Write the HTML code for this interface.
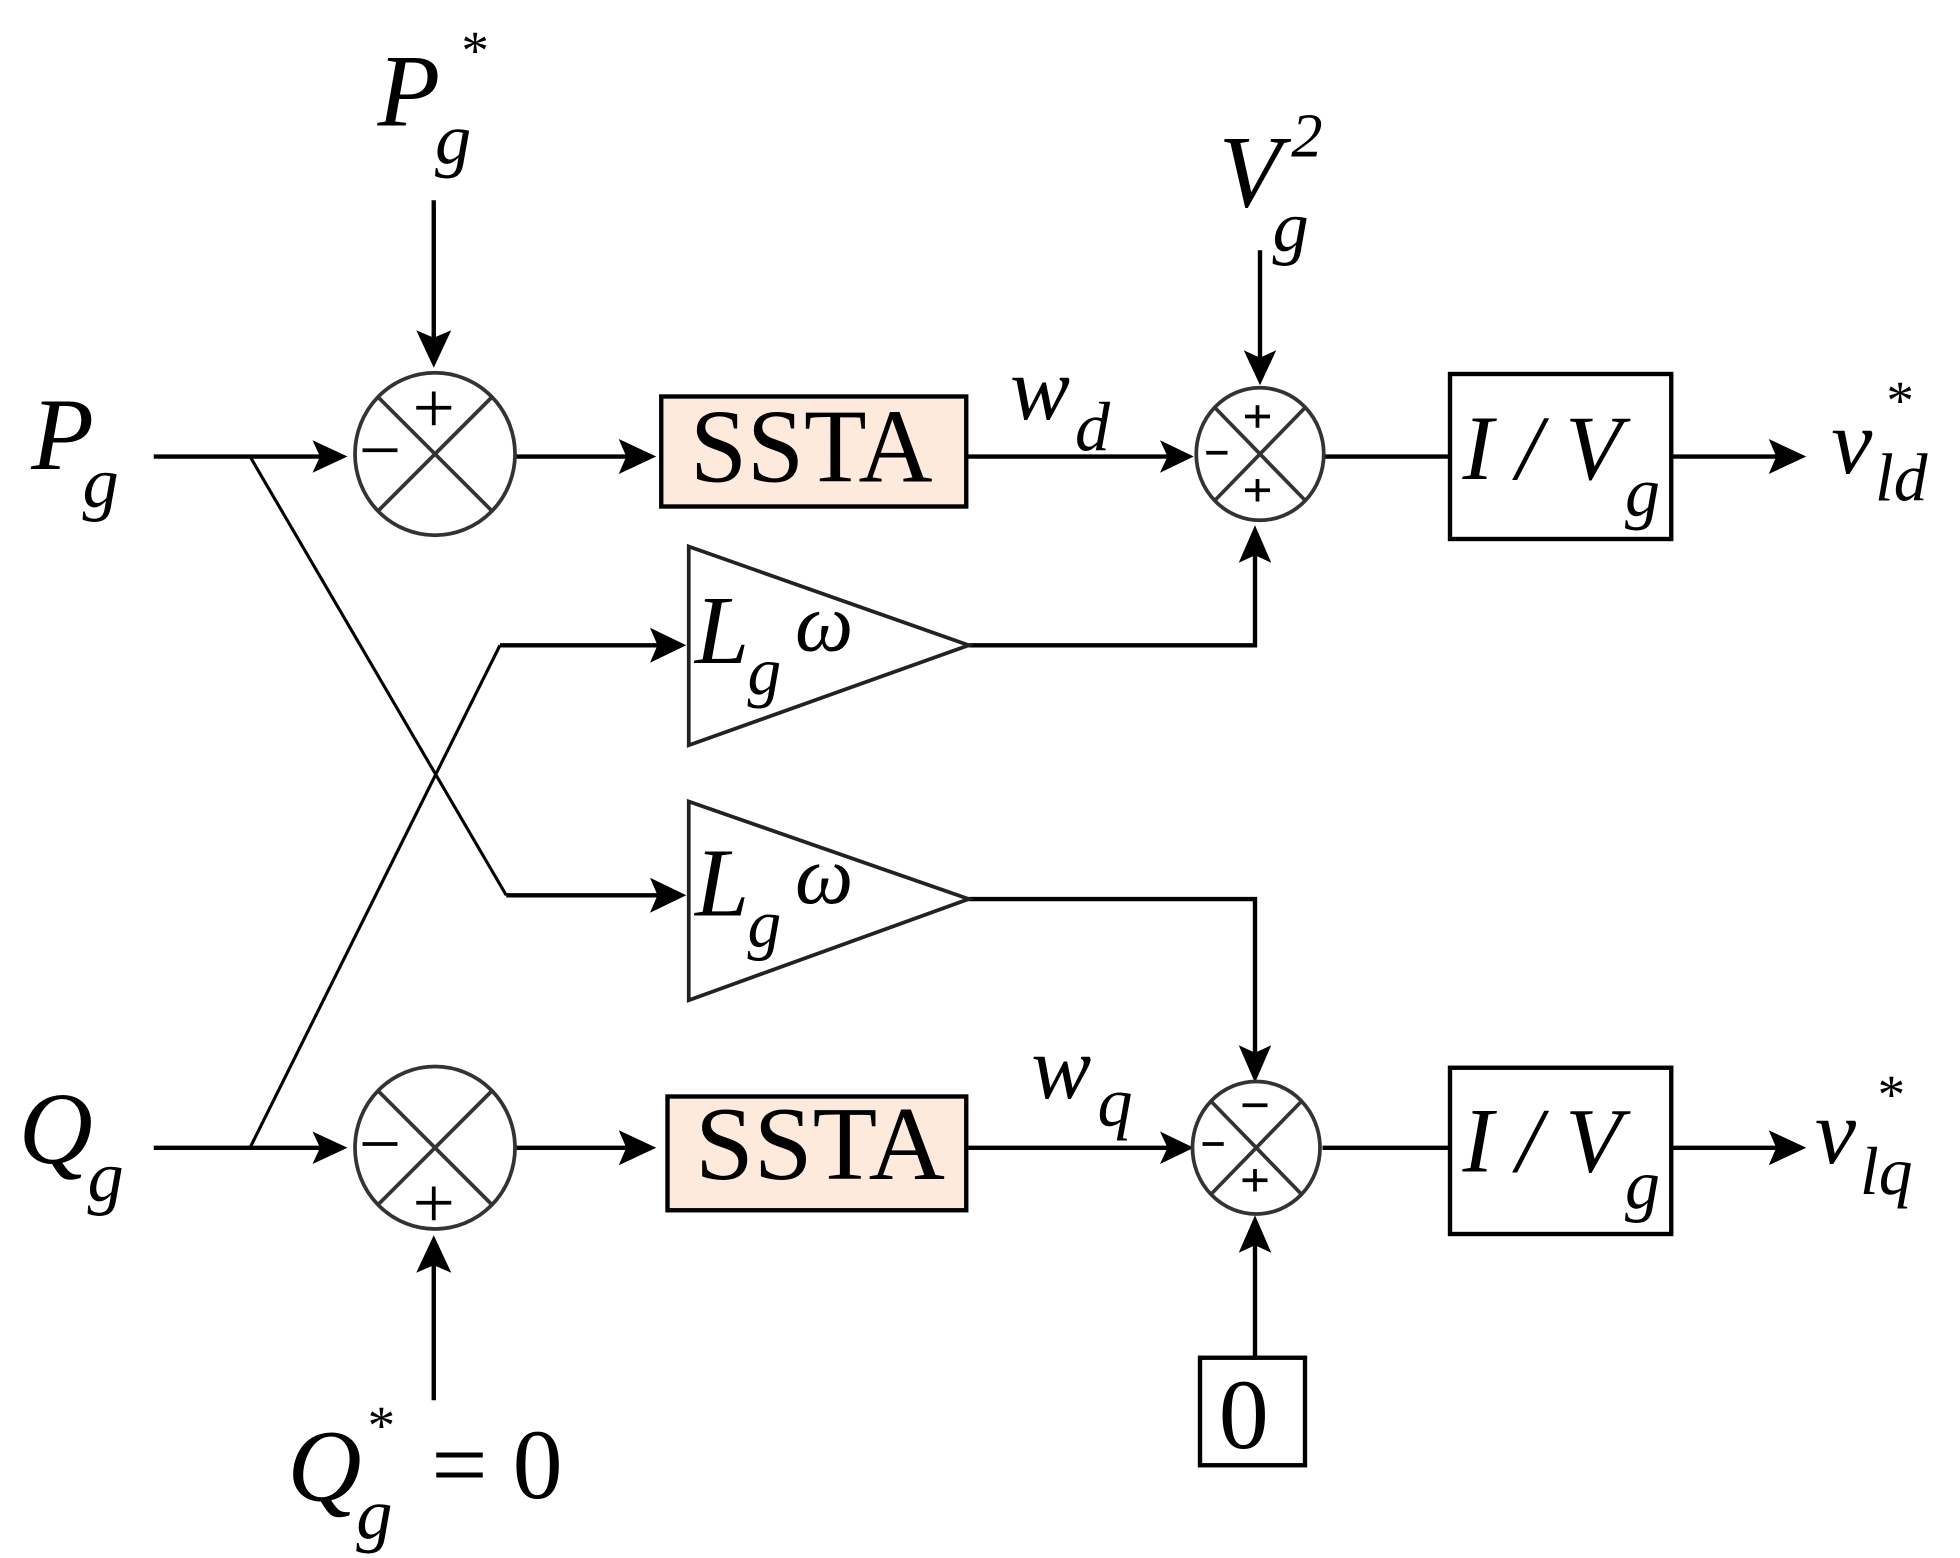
<!DOCTYPE html>
<html><head><meta charset="utf-8"><style>
html,body{margin:0;padding:0;background:#fff;}
svg{display:block;}
text{font-family:"Liberation Serif",serif;fill:#000;}
.i{font-style:italic;}
</style></head><body>
<svg width="1960" height="1558" viewBox="0 0 1568 1246" xmlns="http://www.w3.org/2000/svg">
<defs>
<marker id="a" markerWidth="10" markerHeight="10" refX="9" refY="5" orient="auto" markerUnits="userSpaceOnUse" viewBox="0 0 10 10">
</marker>
</defs>
<g stroke="#000" stroke-width="3.5" fill="none">
<!-- top row -->
<line x1="123" y1="365" x2="262" y2="365"/>
<line x1="413" y1="365" x2="510" y2="365"/>
<line x1="773" y1="365" x2="940" y2="365"/>
<line x1="1060" y1="365" x2="1160" y2="365"/>
<line x1="1337" y1="365" x2="1428" y2="365"/>
<line x1="347" y1="160" x2="347" y2="278"/>
<line x1="1008" y1="200" x2="1008" y2="292"/>
<!-- bottom row -->
<line x1="123" y1="918" x2="262" y2="918"/>
<line x1="413" y1="918" x2="510" y2="918"/>
<line x1="773" y1="918" x2="940" y2="918"/>
<line x1="1058" y1="918" x2="1160" y2="918"/>
<line x1="1337" y1="918" x2="1428" y2="918"/>
<line x1="347" y1="1120" x2="347" y2="1003"/>
<line x1="1004" y1="1085" x2="1004" y2="988"/>
<!-- gains -->
<polyline points="400,516 534,516"/>
<polyline points="775,516 1004,516 1004,438"/>
<polyline points="405,716 534,716"/>
<polyline points="775,719 1004,719 1004,850"/>
</g>
<g stroke="#000" stroke-width="2.5" fill="none">
<polyline points="200,365 405,716"/>
<polyline points="200,918 400,516"/>
</g>
<!-- arrowheads -->
<g fill="#000">
<polygon points="278,365 250,352 256,365 250,378"/>
<polygon points="525,365 495,351 501,365 495,379"/>
<polygon points="955,365 928,352 934,365 928,378"/>
<polygon points="1445,365 1415,351 1421,365 1415,379"/>
<polygon points="347,294 333,264 347,270 361,264"/>
<polygon points="1008,308 995,280 1008,286 1021,280"/>
<polygon points="278,918 250,905 256,918 250,931"/>
<polygon points="525,918 495,904 501,918 495,932"/>
<polygon points="955,918 928,905 934,918 928,931"/>
<polygon points="1445,918 1415,904 1421,918 1415,932"/>
<polygon points="347,988 333,1018 347,1012 361,1018"/>
<polygon points="1004,972 991,1002 1004,996 1017,1002"/>
<polygon points="549,516 520,502 526,516 520,530"/>
<polygon points="549,716 520,702 526,716 520,730"/>
<polygon points="1004,420 991,450 1004,444 1017,450"/>
<polygon points="1004,866 991,836 1004,842 1017,836"/>
</g>
<!-- summing junctions -->
<g stroke="#333" stroke-width="3" fill="none">
<ellipse cx="348" cy="363" rx="64" ry="65"/>
<line x1="302" y1="317" x2="394" y2="409"/><line x1="394" y1="317" x2="302" y2="409"/>
<ellipse cx="348" cy="918" rx="64" ry="65"/>
<line x1="302" y1="872" x2="394" y2="964"/><line x1="394" y1="872" x2="302" y2="964"/>
<ellipse cx="1008" cy="363" rx="51" ry="53"/>
<line x1="972" y1="326" x2="1044" y2="400"/><line x1="1044" y1="326" x2="972" y2="400"/>
<ellipse cx="1005" cy="918" rx="51" ry="53"/>
<line x1="969" y1="881" x2="1041" y2="955"/><line x1="1041" y1="881" x2="969" y2="955"/>
</g>
<g stroke="#000" stroke-width="3">
<line x1="333" y1="326" x2="361" y2="326"/><line x1="347" y1="313" x2="347" y2="340"/>
<line x1="290" y1="360" x2="318" y2="360"/>
<line x1="290" y1="915" x2="318" y2="915"/>
<line x1="333" y1="962" x2="361" y2="962"/><line x1="347" y1="949" x2="347" y2="976"/>
<line x1="996" y1="333" x2="1016" y2="333"/><line x1="1006" y1="324" x2="1006" y2="342"/>
<line x1="965" y1="362" x2="982" y2="362"/>
<line x1="996" y1="392" x2="1016" y2="392"/><line x1="1006" y1="383" x2="1006" y2="401"/>
<line x1="994" y1="884" x2="1014" y2="884"/>
<line x1="962" y1="915" x2="979" y2="915"/>
<line x1="994" y1="944" x2="1014" y2="944"/><line x1="1004" y1="935" x2="1004" y2="953"/>
</g>
<!-- boxes -->
<rect x="529" y="317" width="244" height="88" fill="#fdeadd" stroke="#000" stroke-width="3.5"/>
<rect x="534" y="877" width="239" height="91" fill="#fdeadd" stroke="#000" stroke-width="3.5"/>
<rect x="1160" y="299" width="177" height="132" fill="#fff" stroke="#000" stroke-width="3.5"/>
<rect x="1160" y="854" width="177" height="133" fill="#fff" stroke="#000" stroke-width="3.5"/>
<rect x="960" y="1086" width="84" height="86" fill="#fff" stroke="#000" stroke-width="3.5"/>
<polygon points="551,437 775,516 551,596" fill="#fff" stroke="#222" stroke-width="3"/>
<polygon points="551,641 775,719 551,800" fill="#fff" stroke="#222" stroke-width="3"/>
<!-- text -->
<text x="552" y="385" font-size="84" textLength="194" lengthAdjust="spacingAndGlyphs">SSTA</text>
<text x="556" y="943" font-size="84" textLength="200" lengthAdjust="spacingAndGlyphs">SSTA</text>
<text x="975" y="1158" font-size="80" textLength="40" lengthAdjust="spacingAndGlyphs">0</text>
<g class="i">
<text x="302" y="100" font-size="82">P</text><text x="348" y="130" font-size="58">g</text><text x="367" y="55" font-size="44">*</text>
<text x="25" y="375" font-size="82">P</text><text x="66" y="405" font-size="58">g</text>
<text x="15" y="930" font-size="82">Q</text><text x="70" y="960" font-size="58">g</text>
<text x="975" y="165" font-size="82">V</text><text x="1018" y="200" font-size="58">g</text><text x="1033" y="125" font-size="50">2</text>
<text x="808" y="335" font-size="72">w</text><text x="860" y="360" font-size="56">d</text>
<text x="825" y="878" font-size="72">w</text><text x="878" y="900" font-size="56">q</text>
<text x="556" y="530" font-size="78">L</text><text x="598" y="555" font-size="54">g</text><text x="636" y="520" font-size="66">ω</text>
<text x="556" y="732" font-size="78">L</text><text x="598" y="757" font-size="54">g</text><text x="636" y="722" font-size="66">ω</text>
<text x="1170" y="383" font-size="74">I / V</text><text x="1300" y="412" font-size="56">g</text>
<text x="1170" y="937" font-size="74">I / V</text><text x="1300" y="966" font-size="56">g</text>
<text x="1465" y="378" font-size="74">v</text><text x="1500" y="400" font-size="54">ld</text><text x="1507" y="335" font-size="44">*</text>
<text x="1452" y="930" font-size="74">v</text><text x="1488" y="955" font-size="54">lq</text><text x="1500" y="890" font-size="44">*</text>
<text x="230" y="1200" font-size="82">Q</text><text x="285" y="1230" font-size="58">g</text><text x="292" y="1155" font-size="44">*</text>
</g>
<text x="345" y="1198" font-size="80">= 0</text>
</svg>
</body></html>
